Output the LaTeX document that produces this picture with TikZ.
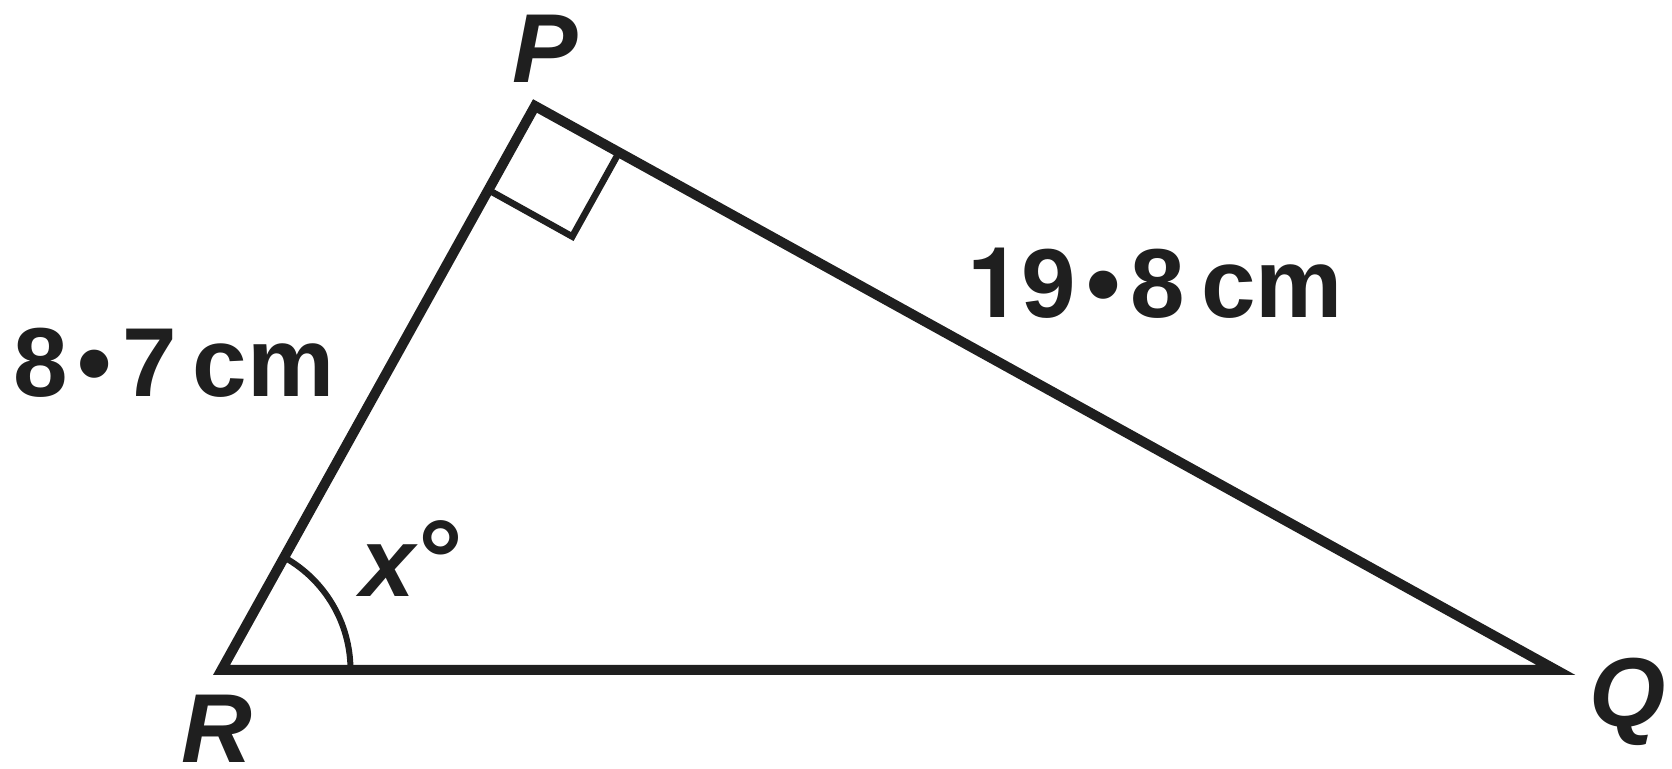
\documentclass[tikz,border=0pt]{standalone}
\usepackage{fontspec}
\setmainfont{Liberation Sans}
\newfontfamily\lblfont{Liberation Sans}[BoldFont={Liberation Sans Bold},BoldItalicFont={Liberation Sans Bold Italic}]
\newfontfamily\onefont{TeX Gyre Heros}
\usetikzlibrary{calc,angles}

\newcommand{\decdot}{\hspace{5pt}•\hspace{5pt}}

\begin{document}
\begin{tikzpicture}[
  x=0.5pt, y=-0.5pt,
  side/.style={line width=5pt, color=black!88},
  sqmark/.style={line width=3.3pt, color=black!88},
  vlabel/.style={font=\lblfont\fontsize{49}{52}\selectfont\bfseries\itshape, anchor=base, inner sep=0pt, text=black!88},
  len/.style={font=\lblfont\fontsize{49}{52}\selectfont\bfseries, anchor=base, inner sep=0pt, text=black!88}]
\useasboundingbox (0,0) rectangle (1672,769);
% vertices
\coordinate (P) at (535,106);
\coordinate (R) at (221.5,670);
\coordinate (Q) at (1556,670);
\draw[side] (P) -- (Q) -- (R) -- cycle;
% right angle at P
\draw[sqmark] ($(P)!48pt!(R)$) -- ($(P)!48pt!(R)!48pt!90:(R)$) -- ($(P)!48pt!(Q)$);
% angle at R
\pic[draw, line width=3pt, color=black!88, angle radius=64.5pt] {angle=Q--R--P};
% labels
\node[vlabel] (lP) at (545,83) {P};
\node[vlabel] (lR) at (217,763) {R};
\node[vlabel] (lQ) at (1628,727) {Q};
\node[len] (pr) at (174,397) {8\decdot7\,cm};
\node[len] (pq) at (1155,318) {{\onefont\bfseries 1}9\decdot8\,cm};
\node[len] (ang) at (412,597) {\textit{x}\raisebox{-1pt}{\fontsize{56}{58}\selectfont°}};
\end{tikzpicture}
\end{document}
